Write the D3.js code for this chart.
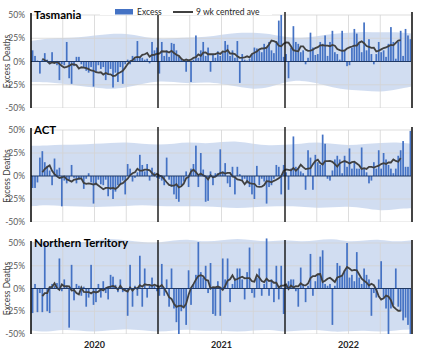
<!DOCTYPE html>
<html>
<head>
<meta charset="utf-8">
<script src="https://cdn.jsdelivr.net/npm/d3@7"></script>
<style>
  body { margin: 0; background: #fff; }
  text { font-family: Lato, "Liberation Sans", sans-serif; }
</style>
</head>
<body>
<div id="main"></div>
<script>
const w = 421, h = 350;

// weekly excess deaths (%), 13 weeks per quarter, Jan 2020 - Dec 2022
const tasExcess = [
  12, 6, 1, -13, 2, 9, 2, -3, 10, -2, -4, -20, -3,
  -4, 21, -18, -24, -5, 5, 5, -3, -6, -10, -12, -6, -27,
  -11, -4, -8, -6, -20, -14, -8, -28, -12, -22, -6, -24, -3,
  2, -3, 6, 3, 22, 5, 4, 2, 3, -2, 21, 12, 15,
  -13, 21, 6, 12, 5, 20, 19, 12, 5, 3, 0, -11, 2,
  -22, 2, 28, 4, 12, 21, 6, 15, -11, 8, 4, 11, 6,
  10, 22, 18, 6, 12, 4, 22, -23, 8, 2, 1, 3, 8,
  15, 14, 12, 10, 19, 15, 21, 12, 9, 22, 44, 50, 5,
  8, -18, 15, 38, 21, 19, 10, 12, -3, 4, 31, 15, 7,
  8, 21, 19, 28, 6, 21, 33, 10, 8, 2, 33, 12, -5,
  -4, 15, 35, 30, 19, 10, 42, 12, 24, 8, -3, 8, 21,
  10, 12, 5, 19, 37, 21, 3, 21, 33, 6, 35, 28, 24
];
const actExcess = [
  -13, -13, -7, 20, 27, 15, 11, 6, -10, 19, 7, 9, -33,
  -5, -8, -4, 12, -2, -8, -4, -3, -14, -3, 3, -7, -30,
  -10, -4, -9, -10, -4, -22, -15, -25, -17, -10, -8, -5, -20,
  13, 8, -6, -2, 4, 23, 12, 5, 13, -5, 9, 4, -2,
  -3, -5, -10, 20, -4, -12, -20, -25, -28, -10, -6, 5, -12,
  8, 13, 33, -12, 25, 7, -28, -27, 5, -10, 3, 3, 29,
  5, 14, -8, -12, 10, -20, 10, 2, -5, -3, -8, -12, -20,
  -25, 11, -10, -3, -6, -30, -12, -10, -3, 12, 10, -20, 12,
  4, -15, 8, 43, 10, 8, 5, 3, -15, 28, 20, -15, 23,
  15, 12, 45, 35, -3, -5, 6, 18, 22, 18, 3, 22, 10,
  30, 8, 15, 8, 8, 31, 8, 4, -8, -5, 15, 8, 28,
  8, 25, 18, 12, 8, 3, 8, 22, 28, 38, 10, 10, 49
];
const ntExcess = [
  -27, 5, -26, -5, -26, 50, -25, -27, 5, 3, 6, 33, -3,
  10, 3, -43, 26, -13, 5, 3, -8, 2, -20, -10, 26, -18,
  -15, 5, -10, 8, -5, -12, 15, 13, 4, -4, 10, -4, -3,
  -30, 26, -20, 3, -8, 36, -20, 22, -10, 3, 12, 3, -3,
  -8, 27, -8, 10, -20, 22, -22, -37, -50, -25, -20, -40, 20,
  -18, 5, 15, 51, 18, 12, 25, -5, 28, -28, -30, 8, -30,
  33, 10, 33, -15, 5, 11, 22, 22, 10, -12, 18, 45, -5,
  -10, 12, 22, -8, 5, 55, -8, 10, -15, 25, -12, 25, -28,
  5, 8, 10, 10, -3, -20, 23, 5, -15, 3, 38, -8, 8,
  15, 35, 42, 5, 3, 5, -40, 3, 28, 25, 15, 20, 50,
  12, 15, 8, 40, 12, 5, 22, 15, 10, -30, -5, -10, 10,
  30, -10, -22, -50, -22, -18, 22, -20, -25, -35, -32, -40, -50
];

// expected range band, read every half quarter (6.5 weeks)
const bandWeeks = [0, 6.5, 13, 19.5, 26, 32.5, 39, 45.5, 52, 58.5, 65, 71.5, 78,
                   84.5, 91, 97.5, 104, 110.5, 117, 123.5, 130, 136.5, 143, 149.5, 156];
const tasHi = [22, 25, 25, 26, 28, 30, 30, 27, 24, 25, 26, 26, 29, 31, 31, 30, 26, 25, 27, 30, 31, 32, 31, 32, 30];
const tasLo = [-22, -22, -24, -26, -28, -30, -28, -24, -21, -22, -24, -22, -24, -27, -30, -28, -22, -20, -23, -28, -31, -31, -33, -30, -27];
const actHi = [33, 33, 34, 34, 35, 36, 37, 35, 34, 35, 37, 35, 37, 38, 35, 33, 34, 35, 37, 35, 33, 35, 36, 37, 35];
const actLo = [-33, -31, -33, -33, -34, -33, -33, -31, -33, -33, -33, -33, -34, -35, -34, -33, -33, -33, -35, -34, -33, -35, -38, -36, -35];
const ntHi = [51, 53, 51, 50, 53, 55, 53, 51, 50, 53, 54, 51, 53, 55, 53, 51, 54, 51, 53, 55, 51, 53, 54, 51, 53];
const ntLo = [-46, -48, -45, -46, -48, -46, -44, -46, -48, -46, -45, -47, -46, -48, -46, -45, -48, -46, -45, -48, -47, -46, -48, -46, -45];

const yearLabels = ['2020', '2021', '2022'];
const yTicks = [50, 25, 0, -25, -50];

const panels = [
  {name: 'Tasmania', excess: tasExcess, hi: tasHi, lo: tasLo, top: 15, bottom: 108},
  {name: 'ACT', excess: actExcess, hi: actHi, lo: actLo, top: 130, bottom: 222},
  {name: 'Northern Territory', excess: ntExcess, hi: ntHi, lo: ntLo, top: 243, bottom: 334}
];

const left = 31, right = 412;
const nWeeks = tasExcess.length;

const xBand = d3.scaleBand().domain(d3.range(nWeeks)).range([left, right]).padding(0.3);
const x = d3.scaleLinear().domain([0, nWeeks]).range([left, right]);

const svg = d3.select('#main')
              .append('svg')
              .attr('width', w)
              .attr('height', h);

// 9 week centred average
function centredAve(arr) {
  return arr.map((d, i) => (i < 4 || i > arr.length - 5) ? null : d3.mean(arr.slice(i - 4, i + 5)));
}

panels.forEach((p, pi) => {
  const y = d3.scaleLinear().domain([-50, 50]).range([p.bottom, p.top]);
  const g = svg.append('g');

  g.append('clipPath')
   .attr('id', 'clip' + pi)
   .append('rect')
   .attr('x', left)
   .attr('y', p.top - 7)
   .attr('width', right - left)
   .attr('height', p.bottom - p.top + 7);

  const plot = g.append('g').attr('clip-path', 'url(#clip' + pi + ')');

  // band
  const area = d3.area()
                 .x((d, i) => x(bandWeeks[i]))
                 .y0((d, i) => y(p.lo[i]))
                 .y1((d, i) => y(p.hi[i]))
                 .curve(d3.curveBasis);
  plot.append('path')
      .datum(bandWeeks)
      .attr('d', area)
      .attr('fill', '#c9d7ef')
      .attr('opacity', 0.85);

  // grid
  plot.selectAll('.hgrid')
      .data(yTicks.filter(t => t !== 0))
      .enter()
      .append('line')
      .attr('x1', left).attr('x2', right)
      .attr('y1', d => y(d)).attr('y2', d => y(d))
      .attr('stroke', '#d4d4d4')
      .attr('stroke-width', 0.8);

  plot.selectAll('.vgrid')
      .data(d3.range(1, 12).filter(q => q % 4 !== 0))
      .enter()
      .append('line')
      .attr('x1', q => x(q * 13)).attr('x2', q => x(q * 13))
      .attr('y1', y(50)).attr('y2', y(-50))
      .attr('stroke', '#d4d4d4')
      .attr('stroke-width', 0.8);

  // bars
  plot.selectAll('.bar')
      .data(p.excess)
      .enter()
      .append('rect')
      .attr('x', (d, i) => xBand(i))
      .attr('width', xBand.bandwidth())
      .attr('y', d => y(Math.max(0, d)))
      .attr('height', d => Math.abs(y(d) - y(0)))
      .attr('fill', '#4472c4');

  // zero line
  g.append('line')
   .attr('x1', left).attr('x2', right)
   .attr('y1', y(0)).attr('y2', y(0))
   .attr('stroke', '#1f3864')
   .attr('stroke-width', 1);

  // moving average
  const ave = centredAve(p.excess);
  const line = d3.line()
                 .defined(d => d !== null)
                 .x((d, i) => xBand(i) + xBand.bandwidth() / 2)
                 .y(d => y(d));
  plot.append('path')
      .datum(ave)
      .attr('d', line)
      .attr('fill', 'none')
      .attr('stroke', '#404040')
      .attr('stroke-width', 1.8);

  // year dividers
  g.selectAll('.year')
   .data([52, 104])
   .enter()
   .append('line')
   .attr('x1', d => x(d)).attr('x2', d => x(d))
   .attr('y1', y(50) - 3).attr('y2', y(-50))
   .attr('stroke', '#111')
   .attr('stroke-width', 1.4);

  g.append('line')
   .attr('x1', right).attr('x2', right)
   .attr('y1', y(50) - 3).attr('y2', y(-50))
   .attr('stroke', '#444')
   .attr('stroke-width', 2);

  // y axis
  const axis = g.append('g')
                .attr('transform', 'translate(' + (left - 3) + ',0)')
                .call(d3.axisLeft(y).tickValues(yTicks).tickFormat(d => d + '%').tickSize(0));
  axis.select('.domain').remove();
  axis.selectAll('text')
      .attr('fill', '#595959')
      .style('font-size', '8.5px')
      .style('font-family', 'Lato, "Liberation Sans", sans-serif');

  g.append('line')
   .attr('x1', left).attr('x2', left)
   .attr('y1', y(50) - 2).attr('y2', y(-50))
   .attr('stroke', '#000')
   .attr('stroke-width', 1.5);

  g.append('text')
   .attr('transform', 'translate(10,' + y(0) + ') rotate(-90)')
   .attr('text-anchor', 'middle')
   .attr('fill', '#404040')
   .style('font-size', '8.5px')
   .text('Excess Deaths');

  // title
  g.append('text')
   .attr('x', left + 3)
   .attr('y', y(50) + 4)
   .attr('font-weight', 'bold')
   .attr('fill', '#000')
   .style('font-size', '11.5px')
   .text(p.name);
});

// years
svg.selectAll('.yr')
   .data(yearLabels)
   .enter()
   .append('text')
   .attr('x', (d, i) => x(26 + 52 * i))
   .attr('y', 348)
   .attr('text-anchor', 'middle')
   .attr('font-weight', 'bold')
   .attr('fill', '#262626')
   .style('font-size', '9px')
   .text(d => d);

// legend
const legend = svg.append('g');
legend.append('rect')
      .attr('x', 100).attr('y', 0)
      .attr('width', 172).attr('height', 15)
      .attr('fill', '#fff');
legend.append('rect')
      .attr('x', 115).attr('y', 9)
      .attr('width', 18).attr('height', 5.5)
      .attr('fill', '#4472c4');
legend.append('text')
      .attr('x', 137).attr('y', 15)
      .attr('fill', '#262626')
      .style('font-size', '8.5px')
      .text('Excess');
legend.append('line')
      .attr('x1', 173).attr('x2', 193)
      .attr('y1', 12).attr('y2', 12)
      .attr('stroke', '#404040')
      .attr('stroke-width', 2);
legend.append('text')
      .attr('x', 196).attr('y', 15)
      .attr('fill', '#262626')
      .style('font-size', '8.5px')
      .text('9 wk centred ave');
</script>
</body>
</html>
